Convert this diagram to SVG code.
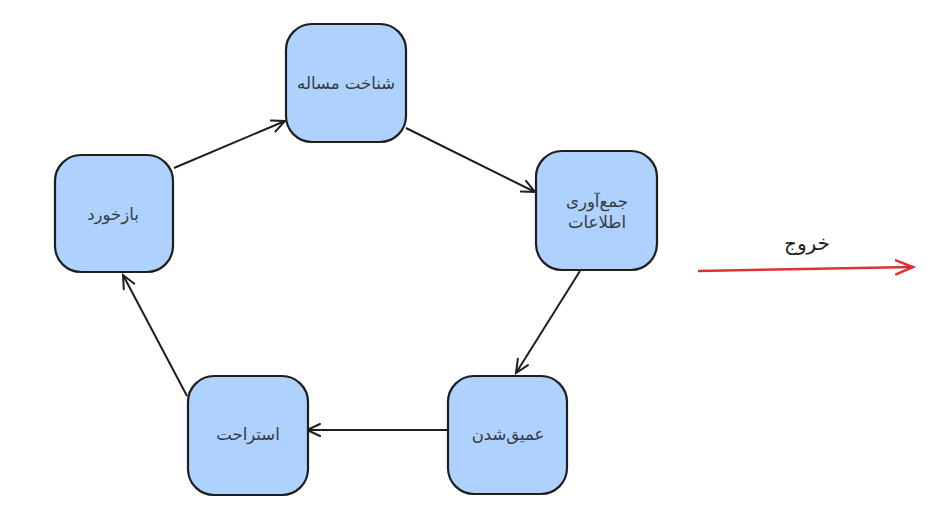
<svg xmlns="http://www.w3.org/2000/svg" width="952" height="517" viewBox="0 0 952 517">
<style>
.node rect{fill:#aed2fd;stroke:#1e1e1e;stroke-width:2.2}
.node text{font-family:"DejaVu Sans",sans-serif;font-size:16.5px;fill:#343a40;text-anchor:middle;direction:rtl}
.conn line{stroke:#1e1e1e;stroke-width:2;fill:none;marker-end:url(#ah)}
.exit line{stroke:#e03131;stroke-width:2.5;fill:none;marker-end:url(#ahr)}
.lbl{font-family:"DejaVu Sans",sans-serif;font-size:20px;fill:#1e1e1e;text-anchor:middle;direction:rtl}
</style>
<defs>
<marker id="ah" markerWidth="20" markerHeight="20" refX="14" refY="7" orient="auto" markerUnits="userSpaceOnUse" viewBox="0 0 20 14">
<path d="M1,1 L14,7 L1,13" fill="none" stroke="#1e1e1e" stroke-width="2" stroke-linecap="round"/>
</marker>
<marker id="ahr" markerWidth="22" markerHeight="20" refX="18" refY="8" orient="auto" markerUnits="userSpaceOnUse" viewBox="0 0 22 16">
<path d="M1,1 L18,8 L1,15" fill="none" stroke="#e03131" stroke-width="2.5" stroke-linecap="round"/>
</marker>
</defs>
<rect width="952" height="517" fill="#ffffff"/>
<g class="conn">
<line x1="174" y1="168" x2="285" y2="121"/>
<line x1="406" y1="128" x2="535" y2="192"/>
<line x1="580" y1="271" x2="516" y2="373"/>
<line x1="448" y1="430" x2="307" y2="430"/>
<line x1="187" y1="396" x2="123" y2="275"/>
</g>
<g id="n1" class="node"><rect x="286" y="24" width="120" height="118" rx="26"/><text x="346" y="89">شناخت مساله</text></g>
<g id="n2" class="node"><rect x="536" y="151" width="121" height="119" rx="26"/><text x="597" y="207">جمع‌آوری</text><text x="597" y="228">اطلاعات</text></g>
<g id="n3" class="node"><rect x="448" y="376" width="119" height="118" rx="26"/><text x="508" y="440">عمیق‌شدن</text></g>
<g id="n4" class="node"><rect x="188" y="376" width="120" height="119" rx="26"/><text x="248" y="440">استراحت</text></g>
<g id="n5" class="node"><rect x="55" y="155" width="118" height="117" rx="26"/><text x="113" y="220">بازخورد</text></g>
<g id="exit" class="exit">
<line x1="698" y1="271" x2="913" y2="267"/>
<text class="lbl" x="807" y="250">خروج</text>
</g>
</svg>
